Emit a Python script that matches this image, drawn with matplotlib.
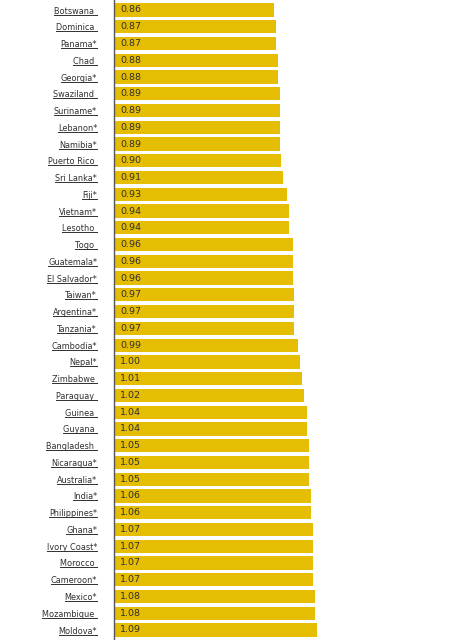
import numpy as np
import matplotlib
matplotlib.use("Agg")
import matplotlib.pyplot as plt
from matplotlib.lines import Line2D

# rows cut off at the top and bottom edges have no readable label
countries = ["", "Botswana", "Dominica", "Panama*", "Chad", "Georgia*", "Swaziland",
             "Suriname*", "Lebanon*", "Namibia*", "Puerto Rico", "Sri Lanka*",
             "Fiji*", "Vietnam*", "Lesotho", "Togo", "Guatemala*", "El Salvador*",
             "Taiwan*", "Argentina*", "Tanzania*", "Cambodia*", "Nepal*",
             "Zimbabwe", "Paraguay", "Guinea", "Guyana", "Bangladesh",
             "Nicaragua*", "Australia*", "India*", "Philippines*", "Ghana*",
             "Ivory Coast*", "Morocco", "Cameroon*", "Mexico*", "Mozambique",
             "Moldova*", ""]
values = [0.86, 0.86, 0.87, 0.87, 0.88, 0.88, 0.89, 0.89, 0.89, 0.89, 0.90, 0.91,
          0.93, 0.94, 0.94, 0.96, 0.96, 0.96, 0.97, 0.97, 0.97, 0.99, 1.00,
          1.01, 1.02, 1.04, 1.04, 1.05, 1.05, 1.05, 1.06, 1.06, 1.07,
          1.07, 1.07, 1.07, 1.08, 1.08, 1.09, 1.09]

bar_color = "#E5BD02"
text_color = "#2f2f2f"

W, H = 473, 640
fig = plt.figure(figsize=(W / 100, H / 100), dpi=100)
ax = fig.add_axes([114 / W, 0, 1 - 114 / W, 1])

y = np.arange(len(values))
ax.barh(y, values, height=0.79, color=bar_color, zorder=2)
for yi, v, name in zip(y, values, countries):
    if not name:
        continue  # only a sliver of these bars shows
    ax.text(0.033, yi, f"{v:.2f}", va="center", ha="left", fontsize=6.8,
            color=text_color, zorder=3)

# labels without an asterisk carry a trailing space (underlined too)
labels = [c if (c.endswith("*") or c == "") else c + " " for c in countries]
ax.set_yticks(y)
ax.set_yticklabels(labels, fontsize=5.9, color=text_color)
ax.tick_params(axis="y", length=0, pad=12.2)
ax.tick_params(axis="x", bottom=False, labelbottom=False)

pitch = 620 / 37
ax.set_xlim(0, (W - 114) / 186)
ax.set_ylim(1 + (H - 10) / pitch, 1 - 10 / pitch)

for side in ["top", "right", "bottom"]:
    ax.spines[side].set_visible(False)
ax.spines["left"].set_color("#555555")
ax.spines["left"].set_linewidth(1.0)
ax.spines["left"].set_zorder(4)

# underline the labels, they look like links in the original
fig.canvas.draw()
renderer = fig.canvas.get_renderer()
inv = fig.transFigure.inverted()
for lab, yi in zip(ax.get_yticklabels(), y):
    if not lab.get_text():
        continue
    bb = lab.get_window_extent(renderer)
    ypix = ax.transData.transform((0, yi))[1] - 4.5
    p0 = inv.transform((bb.x0, ypix))
    p1 = inv.transform((bb.x1, ypix))
    fig.add_artist(Line2D([p0[0], p1[0]], [p0[1], p1[1]],
                          color=text_color, linewidth=0.7))

fig.savefig("out.png", dpi=100)
